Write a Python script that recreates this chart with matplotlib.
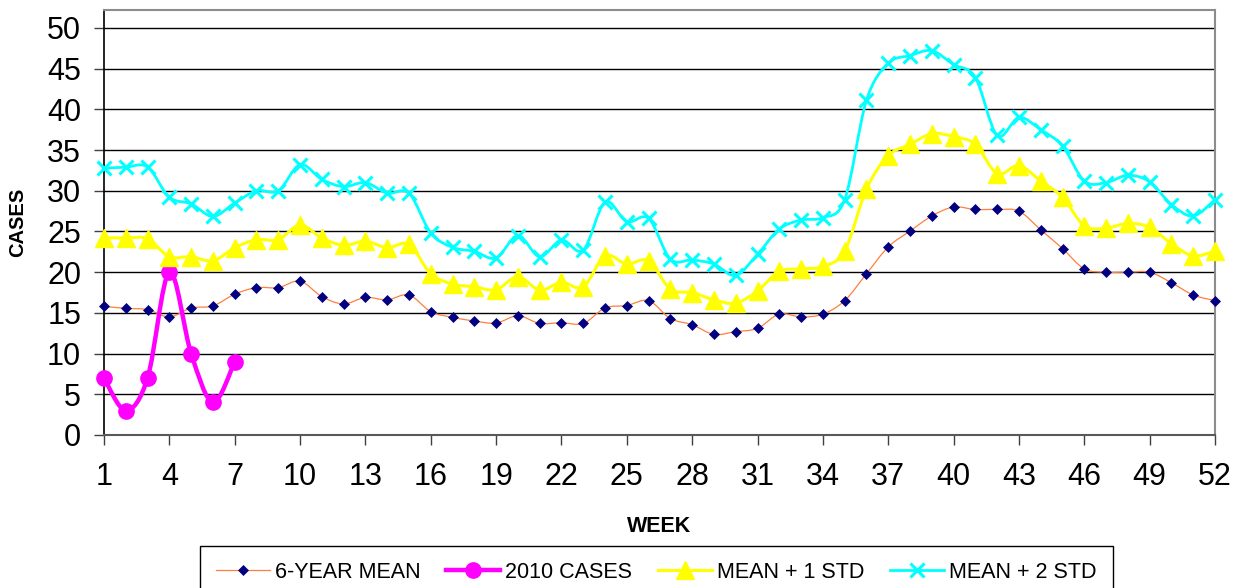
import numpy as np
import matplotlib.pyplot as plt
from matplotlib.path import Path
from matplotlib.patches import PathPatch
from matplotlib.lines import Line2D

plt.rcParams['font.family'] = ['Liberation Sans', 'DejaVu Sans']

weeks = list(range(1, 53))
mean_6yr = [15.8, 15.55, 15.4, 14.5, 15.6, 15.85, 17.3, 18.1, 18.1, 18.9,
            17.0, 16.1, 16.9, 16.6, 17.2, 15.15, 14.45, 14.0, 13.75, 14.65,
            13.7, 13.8, 13.7, 15.6, 15.9, 16.5, 14.3, 13.55, 12.35, 12.7,
            13.1, 14.85, 14.5, 14.85, 16.5, 19.8, 23.1, 25.05, 26.9, 28.0,
            27.7, 27.7, 27.5, 25.2, 22.9, 20.4, 20.0, 20.0, 20.0, 18.7,
            17.2, 16.5]
weeks_2010 = [1, 2, 3, 4, 5, 6, 7]
cases_2010 = [7, 3, 7, 20, 10, 4, 9]
mean_1std = [24.2, 24.2, 24.1, 21.9, 21.9, 21.4, 23.0, 24.0, 24.0, 25.8,
             24.2, 23.3, 23.8, 23.0, 23.4, 19.8, 18.55, 18.2, 17.85, 19.45,
             17.8, 18.75, 18.2, 22.0, 21.0, 21.4, 17.9, 17.5, 16.6, 16.2,
             17.7, 20.1, 20.4, 20.7, 22.6, 30.2, 34.3, 35.7, 37.0, 36.65,
             35.7, 32.1, 33.1, 31.2, 29.2, 25.7, 25.4, 26.0, 25.5, 23.5,
             22.0, 22.6]
mean_2std = [32.75, 32.9, 32.9, 29.2, 28.4, 26.85, 28.5, 30.0, 30.0, 33.2,
             31.4, 30.5, 31.0, 29.7, 29.7, 24.8, 23.05, 22.55, 21.75, 24.5,
             21.9, 23.95, 22.7, 28.6, 26.2, 26.6, 21.6, 21.5, 21.0, 19.6,
             22.2, 25.3, 26.4, 26.7, 28.9, 41.1, 45.65, 46.6, 47.2, 45.5,
             43.9, 36.8, 39.0, 37.5, 35.5, 31.2, 31.0, 31.9, 31.1, 28.3,
             26.9, 28.9]
week_ticks = list(range(1, 53, 3))


def smooth_path(x, y):
    # smoothed line like the spreadsheet's (Catmull-Rom as cubic Bezier)
    pts = np.column_stack([x, y]).astype(float)
    ext = np.vstack([pts[0], pts, pts[-1]])
    verts = [pts[0]]
    codes = [Path.MOVETO]
    for i in range(len(pts) - 1):
        p0, p1, p2, p3 = ext[i], ext[i + 1], ext[i + 2], ext[i + 3]
        verts += [p1 + (p2 - p0) / 6, p2 - (p3 - p1) / 6, p2]
        codes += [Path.CURVE4] * 3
    return Path(verts, codes)


series = [
    ('6-YEAR MEAN', weeks, mean_6yr,
     dict(color='#FF7F3F', lw=0.9),
     dict(marker='D', ms=5.5, mfc='#000080', mec='#000080', mew=0.5)),
    ('2010 CASES', weeks_2010, cases_2010,
     dict(color='#FF00FF', lw=3.2),
     dict(marker='o', ms=11, mfc='#FF00FF', mec='#FF00FF')),
    ('MEAN + 1 STD', weeks, mean_1std,
     dict(color='#FFFF00', lw=2.2),
     dict(marker='^', ms=12.5, mfc='#FFFF00', mec='#FFFF00')),
    ('MEAN + 2 STD', weeks, mean_2std,
     dict(color='#00FFFF', lw=2.0),
     dict(marker='x', ms=10, mfc='#00FFFF', mec='#00FFFF', mew=2.2)),
]

fig = plt.figure(figsize=(12.5, 5.88), dpi=100)
ax = fig.add_axes([104 / 1250, 153 / 588, 1111 / 1250, 425 / 588])

handles = []
for z, (label, xs, ys, lstyle, mstyle) in enumerate(series):
    patch = PathPatch(smooth_path(xs, ys), fill=False, edgecolor=lstyle['color'],
                      lw=lstyle['lw'], zorder=3 + z, clip_on=False)
    ax.add_patch(patch)
    ax.plot(xs, ys, ls='none', zorder=3 + z, clip_on=False, **mstyle)
    handles.append(Line2D([], [], color=lstyle['color'], lw=lstyle['lw'], **mstyle))

ax.set_xlim(1, 52)
ax.set_ylim(0, 52.2)
ax.set_xticks(week_ticks)
ax.set_yticks(range(0, 51, 5))
ax.yaxis.grid(True, color='black', lw=1.0)
ax.set_axisbelow(True)

ax.tick_params(axis='both', direction='out', length=7.5, width=1, color='#404040',
               labelsize=22)
ax.tick_params(axis='x', pad=12)
ax.tick_params(axis='y', pad=9)

for side in ['top', 'right']:
    ax.spines[side].set_color('#8c8c8c')
    ax.spines[side].set_linewidth(1.5)
ax.spines['bottom'].set_color('#595959')
ax.spines['bottom'].set_linewidth(1.5)
ax.spines['left'].set_color('black')
ax.spines['left'].set_linewidth(1.2)

ax.set_ylabel('CASES', fontsize=14.5, fontweight='bold')
ax.yaxis.set_label_coords(-0.069, 0.5)
ax.set_xlabel('WEEK', fontsize=15.5, fontweight='bold', va='top')
ax.xaxis.set_label_coords(0.5, -0.19)

leg = fig.legend(handles, [s[0] for s in series], loc='upper center',
                 bbox_to_anchor=(656.5 / 1250, 1 - 545.5 / 588), ncol=4,
                 fontsize=15.5, frameon=True, fancybox=False, framealpha=1,
                 edgecolor='black', handlelength=2.5, handletextpad=0.24,
                 columnspacing=1.2, borderpad=0.75, borderaxespad=0)
leg.get_frame().set_linewidth(1.0)

fig.savefig('out.png', dpi=100)
